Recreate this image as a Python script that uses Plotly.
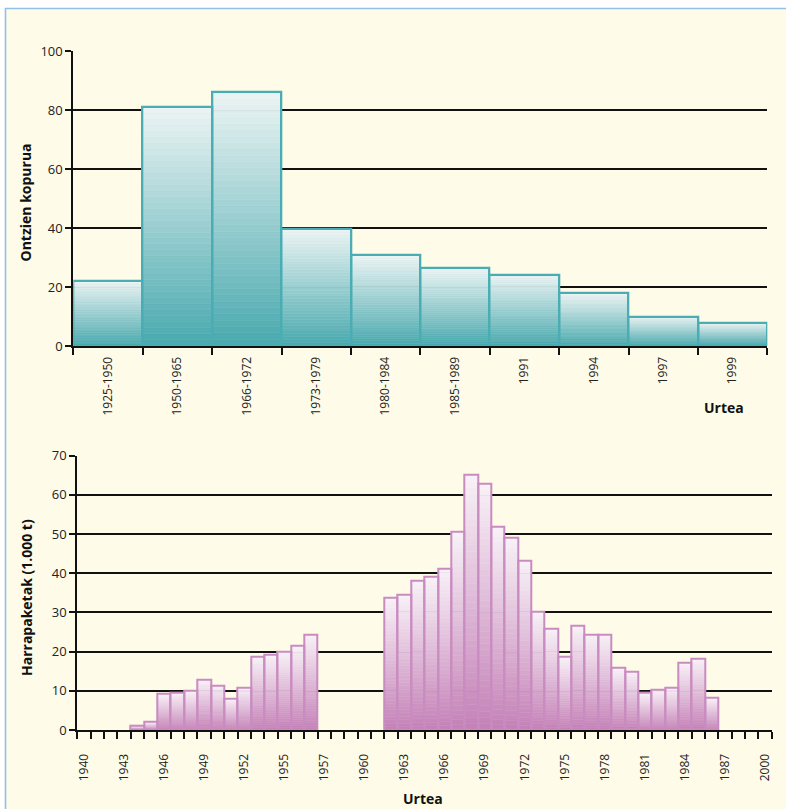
import plotly.graph_objects as go

# ---------------- data ----------------
fleet_periods = ["1925-1950", "1950-1965", "1966-1972", "1973-1979", "1980-1984",
                 "1985-1989", "1991", "1994", "1997", "1999"]
fleet_counts = [22, 81, 86, 39.5, 30.7, 26.3, 24.2, 17.8, 10, 7.8]

catch_values = [0, 0, 0, 0, 1.1, 2.0, 9.2, 9.6, 10.0, 12.8, 11.4, 8.0, 10.9, 18.7,
                19.3, 20.0, 21.4, 24.4, 0, 0, 0, 0, 0, 33.8, 34.5, 38.0, 39.0, 41.1,
                50.5, 65.1, 62.9, 52.0, 49.1, 43.2, 30.2, 25.8, 18.6, 26.5, 24.4, 24.4,
                15.8, 15.0, 9.4, 10.3, 10.9, 17.2, 18.3, 8.2, 0, 0, 0, 0]
catch_tick_labels = ["1940", "1943", "1946", "1949", "1952", "1955", "1957", "1960",
                     "1963", "1966", "1969", "1972", "1975", "1978", "1981", "1984",
                     "1987", "2000"]
catch_tick_step = 3

# ---------------- styling helpers ----------------
W, H = 786, 809
N_BANDS = 40


def hex2rgb(h):
    h = h.lstrip("#")
    return tuple(int(h[i:i + 2], 16) for i in (0, 2, 4))


def lerp(c0, c1, t):
    a, b = hex2rgb(c0), hex2rgb(c1)
    return "rgb(%d,%d,%d)" % tuple(round(a[i] + (b[i] - a[i]) * t) for i in range(3))


def px_x(p):
    return p / W


def px_y(p):
    return 1 - p / H


fig = go.Figure()


def add_gradient_bars(x, vals, dark, light, outline, lw, xa, ya):
    shown = [v if v > 0 else None for v in vals]
    for k in range(N_BANDS):
        t = (k + 0.5) / N_BANDS
        col = lerp(dark, light, t)
        fig.add_trace(go.Bar(
            x=x, y=[None if v is None else v / N_BANDS for v in shown],
            base=[None if v is None else v * k / N_BANDS for v in shown],
            marker=dict(color=col, line=dict(color=col, width=0.6)),
            xaxis=xa, yaxis=ya, showlegend=False, hoverinfo="skip"))
    fig.add_trace(go.Bar(
        x=x, y=shown, marker=dict(color="rgba(0,0,0,0)", line=dict(color=outline, width=lw)),
        xaxis=xa, yaxis=ya, showlegend=False))


# top chart
add_gradient_bars(fleet_periods, fleet_counts, "#48A9AE", "#ECF4F4", "#4AADB3", 2.3, "x", "y")

# bottom chart
catch_x = list(range(len(catch_values)))
add_gradient_bars(catch_x, catch_values, "#C481B7", "#F8F1F7", "#C98CC0", 2.0, "x2", "y2")

font_family = "Open Sans, DejaVu Sans, sans-serif"
tick_font_x = dict(family=font_family, size=12, color="#222")
tick_font_y = dict(family=font_family, size=13, color="#222")
title_font = dict(family=font_family, size=14, color="#111")


def title_ann(text, x, y, angle=0):
    return dict(text="<b>%s</b>" % text, xref="paper", yref="paper",
                x=px_x(x), y=px_y(y), xanchor="center", yanchor="middle",
                textangle=angle, showarrow=False, font=title_font)


fig.update_layout(
    width=W, height=H,
    autosize=False,
    margin=dict(l=0, r=0, t=0, b=0, pad=0, autoexpand=False),
    showlegend=False,
    paper_bgcolor="white",
    plot_bgcolor="rgba(0,0,0,0)",
    barmode="overlay",
    bargap=0,
    font=dict(family=font_family),
    xaxis=dict(
        domain=[px_x(73.3), px_x(767.3)],
        type="category", range=[-0.5, len(fleet_periods) - 0.5],
        tickson="boundaries", ticks="outside", ticklen=7, tickwidth=2, tickcolor="#111",
        tickangle=-90, tickfont=tick_font_x, automargin=False, ticklabelstandoff=4,
        showline=True, linecolor="#111", linewidth=2, showgrid=False,
        anchor="y", fixedrange=True,
    ),
    yaxis=dict(
        domain=[px_y(346), px_y(51)],
        range=[0, 100], dtick=20, ticks="outside", ticklen=6, tickwidth=2, tickcolor="#111",
        tickfont=tick_font_y, automargin=False,
        showline=True, linecolor="#111", linewidth=2,
        showgrid=True, gridcolor="#111", gridwidth=2, zeroline=False,
        anchor="x",
    ),
    xaxis2=dict(
        domain=[px_x(77.3), px_x(771.7)],
        range=[-0.5, len(catch_values) - 0.5],
        tickmode="array",
        tickvals=[i * catch_tick_step for i in range(len(catch_tick_labels))],
        ticktext=catch_tick_labels,
        ticks="", tickangle=-90, tickfont=tick_font_x, automargin=False,
        ticklabelstandoff=17,
        minor=dict(tickmode="linear", tick0=-0.5, dtick=1, ticks="outside", ticklen=7,
                   tickwidth=2, tickcolor="#111", showgrid=False),
        showline=True, linecolor="#111", linewidth=2, showgrid=False, zeroline=False,
        anchor="y2",
    ),
    yaxis2=dict(
        domain=[px_y(730), px_y(455.7)],
        range=[0, 70], dtick=10, ticks="outside", ticklen=6, tickwidth=2, tickcolor="#111",
        tickfont=tick_font_y, automargin=False,
        showline=True, linecolor="#111", linewidth=2,
        showgrid=True, gridcolor="#111", gridwidth=2, zeroline=False,
        anchor="x2",
    ),
    shapes=[dict(type="rect", xref="paper", yref="paper", layer="below",
                 x0=px_x(5.5), x1=1.02, y0=-0.02, y1=px_y(8.5),
                 fillcolor="#FEFBE8", line=dict(color="#92C0E6", width=1.6))],
    annotations=[
        title_ann("Ontzien kopurua", 25.5, 203, -90),
        title_ann("Urtea", 723.5, 407),
        title_ann("Harrapaketak (1.000 t)", 26, 598, -90),
        title_ann("Urtea", 423, 798),
    ],
)

fig.write_html(
    "out.html",
    config={"displayModeBar": False, "responsive": False},
    post_script="document.body.style.margin='0';document.body.style.padding='0';"
                "document.body.style.overflow='hidden';"
                "document.documentElement.style.overflow='hidden';",
)
